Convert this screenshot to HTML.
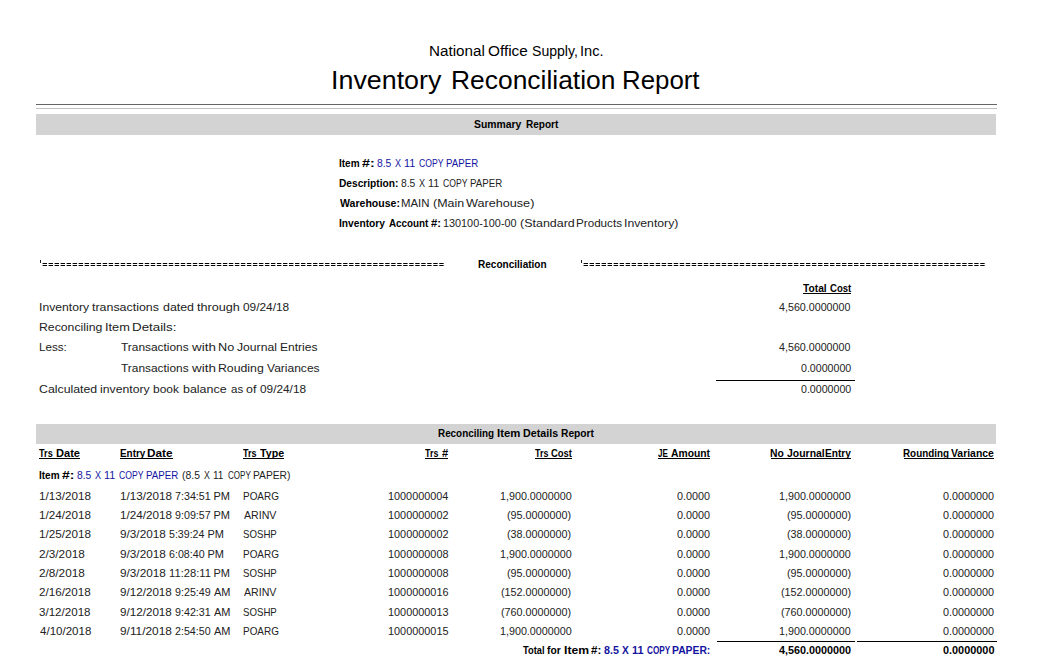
<!DOCTYPE html>
<html><head><meta charset="utf-8"><title>Inventory Reconciliation Report</title>
<style>
html,body{margin:0;padding:0;background:#fff;}
body{width:1046px;height:670px;position:relative;overflow:hidden;font-family:"Liberation Sans",sans-serif;}
.t{position:absolute;white-space:nowrap;line-height:0;transform-origin:0 0;}
.r{position:absolute;}
.eq{position:absolute;left:0;top:0;}
</style></head><body>
<div class="r" style="left:36px;top:104px;width:961px;height:1px;background:#666"></div>
<div class="r" style="left:36px;top:108px;width:961px;height:1px;background:#c0c0c0"></div>
<div class="r" style="left:36px;top:114px;width:960px;height:21px;background:#d3d3d3"></div>
<div class="r" style="left:803px;top:293px;width:48px;height:1px;background:#000"></div>
<div class="r" style="left:716px;top:380px;width:139px;height:1px;background:#000"></div>
<div class="r" style="left:36px;top:424px;width:960px;height:20px;background:#d3d3d3"></div>
<div class="r" style="left:39px;top:458px;width:41px;height:1px;background:#000"></div>
<div class="r" style="left:120px;top:458px;width:53px;height:1px;background:#000"></div>
<div class="r" style="left:243px;top:458px;width:41px;height:1px;background:#000"></div>
<div class="r" style="left:425px;top:458px;width:23px;height:1px;background:#000"></div>
<div class="r" style="left:535px;top:458px;width:37px;height:1px;background:#000"></div>
<div class="r" style="left:658px;top:458px;width:52px;height:1px;background:#000"></div>
<div class="r" style="left:771px;top:458px;width:80px;height:1px;background:#000"></div>
<div class="r" style="left:904px;top:458px;width:90px;height:1px;background:#000"></div>
<div class="r" style="left:717px;top:641px;width:138px;height:1px;background:#000"></div>
<div class="r" style="left:857px;top:641px;width:140px;height:1px;background:#000"></div>
<svg class="eq" width="1046" height="670" viewBox="0 0 1046 670"><line x1="42.6" y1="263.5" x2="443.65999999999997" y2="263.5" stroke="#000" stroke-width="1" stroke-dasharray="4.4 1.61"/><line x1="42.6" y1="265.5" x2="443.65999999999997" y2="265.5" stroke="#000" stroke-width="1" stroke-dasharray="4.4 1.61"/><line x1="583.6" y1="263.5" x2="984.66" y2="263.5" stroke="#000" stroke-width="1" stroke-dasharray="4.4 1.61"/><line x1="583.6" y1="265.5" x2="984.66" y2="265.5" stroke="#000" stroke-width="1" stroke-dasharray="4.4 1.61"/><rect x="40" y="260" width="1" height="3" fill="#222"/><rect x="581" y="260" width="1" height="3" fill="#222"/></svg>
<div class="t" style="left:428.61px;top:51px;font-size:14px;font-weight:400;color:#000;transform:scaleX(1.0861)">National</div>
<div class="t" style="left:487.88px;top:51px;font-size:14px;font-weight:400;color:#000;transform:scaleX(1.0944)">Office</div>
<div class="t" style="left:531.86px;top:51px;font-size:14px;font-weight:400;color:#000;transform:scaleX(1.0051)">Supply,</div>
<div class="t" style="left:580.36px;top:51px;font-size:14px;font-weight:400;color:#000;transform:scaleX(1.0442)">Inc.</div>
<div class="t" style="left:331.00px;top:80px;font-size:25.3px;font-weight:400;color:#000;transform:scaleX(1.0608)">Inventory</div>
<div class="t" style="left:450.54px;top:80px;font-size:25.3px;font-weight:400;color:#000;transform:scaleX(1.0441)">Reconciliation</div>
<div class="t" style="left:622.18px;top:80px;font-size:25.3px;font-weight:400;color:#000;transform:scaleX(1.0210)">Report</div>
<div class="t" style="left:473.94px;top:124px;font-size:11px;font-weight:700;color:#000;transform:scaleX(0.9454)">Summary</div>
<div class="t" style="left:525.57px;top:124px;font-size:11px;font-weight:700;color:#000;transform:scaleX(0.9135)">Report</div>
<div class="t" style="left:338.98px;top:163px;font-size:11px;font-weight:700;color:#000;transform:scaleX(0.9079)">Item</div>
<div class="t" style="left:362.28px;top:163px;font-size:11px;font-weight:700;color:#000;transform:scaleX(1.2880)">#:</div>
<div class="t" style="left:377.18px;top:163px;font-size:11px;font-weight:400;color:#1414a0;transform:scaleX(0.9378)">8.5</div>
<div class="t" style="left:395.26px;top:163px;font-size:11px;font-weight:400;color:#1414a0;transform:scaleX(0.8231)">X</div>
<div class="t" style="left:404.02px;top:163px;font-size:11px;font-weight:400;color:#1414a0;transform:scaleX(0.9820)">11</div>
<div class="t" style="left:419.09px;top:163px;font-size:11px;font-weight:400;color:#1414a0;transform:scaleX(0.7859)">COPY</div>
<div class="t" style="left:446.24px;top:163px;font-size:11px;font-weight:400;color:#1414a0;transform:scaleX(0.8827)">PAPER</div>
<div class="t" style="left:338.96px;top:183px;font-size:11px;font-weight:700;color:#000;transform:scaleX(0.9253)">Description:</div>
<div class="t" style="left:400.98px;top:183px;font-size:11px;font-weight:400;color:#222;transform:scaleX(0.9378)">8.5</div>
<div class="t" style="left:419.06px;top:183px;font-size:11px;font-weight:400;color:#222;transform:scaleX(0.8231)">X</div>
<div class="t" style="left:427.82px;top:183px;font-size:11px;font-weight:400;color:#222;transform:scaleX(0.9820)">11</div>
<div class="t" style="left:442.89px;top:183px;font-size:11px;font-weight:400;color:#222;transform:scaleX(0.7859)">COPY</div>
<div class="t" style="left:470.04px;top:183px;font-size:11px;font-weight:400;color:#222;transform:scaleX(0.8827)">PAPER</div>
<div class="t" style="left:339.60px;top:203px;font-size:11px;font-weight:700;color:#000;transform:scaleX(0.9589)">Warehouse:</div>
<div class="t" style="left:401.41px;top:203px;font-size:11px;font-weight:400;color:#222;transform:scaleX(1.0371)">MAIN</div>
<div class="t" style="left:433.02px;top:203px;font-size:11px;font-weight:400;color:#222;transform:scaleX(1.1300)">(Main</div>
<div class="t" style="left:466.30px;top:203px;font-size:11px;font-weight:400;color:#222;transform:scaleX(1.1487)">Warehouse)</div>
<div class="t" style="left:339.06px;top:223px;font-size:11px;font-weight:700;color:#000;transform:scaleX(0.9286)">Inventory</div>
<div class="t" style="left:388.65px;top:223px;font-size:11px;font-weight:700;color:#000;transform:scaleX(0.8955)">Account</div>
<div class="t" style="left:430.92px;top:223px;font-size:11px;font-weight:700;color:#000;transform:scaleX(1.0235)">#:</div>
<div class="t" style="left:443.12px;top:223px;font-size:11px;font-weight:400;color:#222;transform:scaleX(0.9856)">130100-100-00</div>
<div class="t" style="left:520.22px;top:223px;font-size:11px;font-weight:400;color:#222;transform:scaleX(1.1341)">(Standard</div>
<div class="t" style="left:575.89px;top:223px;font-size:11px;font-weight:400;color:#222;transform:scaleX(1.0591)">Products</div>
<div class="t" style="left:624.24px;top:223px;font-size:11px;font-weight:400;color:#222;transform:scaleX(1.1120)">Inventory)</div>
<div class="t" style="left:478.27px;top:264px;font-size:11px;font-weight:700;color:#000;transform:scaleX(0.9127)">Reconciliation</div>
<div class="t" style="left:803.30px;top:288px;font-size:11px;font-weight:700;color:#000;transform:scaleX(0.9311)">Total</div>
<div class="t" style="left:829.90px;top:288px;font-size:11px;font-weight:700;color:#000;transform:scaleX(0.8692)">Cost</div>
<div class="t" style="left:39.35px;top:307px;font-size:11px;font-weight:400;color:#222;transform:scaleX(1.1062)">Inventory</div>
<div class="t" style="left:91.90px;top:307px;font-size:11px;font-weight:400;color:#222;transform:scaleX(1.1278)">transactions</div>
<div class="t" style="left:163.31px;top:307px;font-size:11px;font-weight:400;color:#222;transform:scaleX(1.1255)">dated</div>
<div class="t" style="left:197.30px;top:307px;font-size:11px;font-weight:400;color:#222;transform:scaleX(1.1502)">through</div>
<div class="t" style="left:242.63px;top:307px;font-size:11px;font-weight:400;color:#222;transform:scaleX(1.0778)">09/24/18</div>
<div class="t" style="left:779.43px;top:307px;font-size:11px;font-weight:400;color:#222;transform:scaleX(0.9731)">4,560.0000000</div>
<div class="t" style="left:38.64px;top:327px;font-size:11px;font-weight:400;color:#222;transform:scaleX(1.1140)">Reconciling</div>
<div class="t" style="left:105.00px;top:327px;font-size:11px;font-weight:400;color:#222;transform:scaleX(1.1621)">Item</div>
<div class="t" style="left:132.46px;top:327px;font-size:11px;font-weight:400;color:#222;transform:scaleX(1.2117)">Details:</div>
<div class="t" style="left:38.99px;top:347px;font-size:11px;font-weight:400;color:#222;transform:scaleX(1.0598)">Less:</div>
<div class="t" style="left:120.81px;top:347px;font-size:11px;font-weight:400;color:#222;transform:scaleX(1.0814)">Transactions</div>
<div class="t" style="left:192.31px;top:347px;font-size:11px;font-weight:400;color:#222;transform:scaleX(1.2189)">with</div>
<div class="t" style="left:218.21px;top:347px;font-size:11px;font-weight:400;color:#222;transform:scaleX(1.1524)">No</div>
<div class="t" style="left:236.51px;top:347px;font-size:11px;font-weight:400;color:#222;transform:scaleX(1.1057)">Journal</div>
<div class="t" style="left:280.26px;top:347px;font-size:11px;font-weight:400;color:#222;transform:scaleX(1.0959)">Entries</div>
<div class="t" style="left:779.43px;top:347px;font-size:11px;font-weight:400;color:#222;transform:scaleX(0.9731)">4,560.0000000</div>
<div class="t" style="left:120.81px;top:368px;font-size:11px;font-weight:400;color:#222;transform:scaleX(1.0814)">Transactions</div>
<div class="t" style="left:192.31px;top:368px;font-size:11px;font-weight:400;color:#222;transform:scaleX(1.2189)">with</div>
<div class="t" style="left:218.34px;top:368px;font-size:11px;font-weight:400;color:#222;transform:scaleX(1.1165)">Rouding</div>
<div class="t" style="left:267.10px;top:368px;font-size:11px;font-weight:400;color:#222;transform:scaleX(1.0931)">Variances</div>
<div class="t" style="left:800.67px;top:368px;font-size:11px;font-weight:400;color:#222;transform:scaleX(0.9654)">0.0000000</div>
<div class="t" style="left:38.72px;top:389px;font-size:11px;font-weight:400;color:#222;transform:scaleX(1.1191)">Calculated</div>
<div class="t" style="left:100.14px;top:389px;font-size:11px;font-weight:400;color:#222;transform:scaleX(1.1127)">inventory</div>
<div class="t" style="left:153.05px;top:389px;font-size:11px;font-weight:400;color:#222;transform:scaleX(1.0884)">book</div>
<div class="t" style="left:183.12px;top:389px;font-size:11px;font-weight:400;color:#222;transform:scaleX(1.1310)">balance</div>
<div class="t" style="left:230.54px;top:389px;font-size:11px;font-weight:400;color:#222;transform:scaleX(1.0430)">as</div>
<div class="t" style="left:245.91px;top:389px;font-size:11px;font-weight:400;color:#222;transform:scaleX(1.1277)">of</div>
<div class="t" style="left:259.63px;top:389px;font-size:11px;font-weight:400;color:#222;transform:scaleX(1.0755)">09/24/18</div>
<div class="t" style="left:800.67px;top:389px;font-size:11px;font-weight:400;color:#222;transform:scaleX(0.9654)">0.0000000</div>
<div class="t" style="left:438.08px;top:433px;font-size:11px;font-weight:700;color:#000;transform:scaleX(0.8974)">Reconciling</div>
<div class="t" style="left:496.99px;top:433px;font-size:11px;font-weight:700;color:#000;transform:scaleX(1.0302)">Item</div>
<div class="t" style="left:523.13px;top:433px;font-size:11px;font-weight:700;color:#000;transform:scaleX(0.9731)">Details</div>
<div class="t" style="left:560.96px;top:433px;font-size:11px;font-weight:700;color:#000;transform:scaleX(0.9308)">Report</div>
<div class="t" style="left:39.30px;top:453px;font-size:11px;font-weight:700;color:#000;transform:scaleX(0.8341)">Trs</div>
<div class="t" style="left:56.01px;top:453px;font-size:11px;font-weight:700;color:#000;transform:scaleX(1.0052)">Date</div>
<div class="t" style="left:119.68px;top:453px;font-size:11px;font-weight:700;color:#000;transform:scaleX(0.9018)">Entry</div>
<div class="t" style="left:147.46px;top:453px;font-size:11px;font-weight:700;color:#000;transform:scaleX(1.0708)">Date</div>
<div class="t" style="left:243.00px;top:453px;font-size:11px;font-weight:700;color:#000;transform:scaleX(0.8154)">Trs</div>
<div class="t" style="left:260.10px;top:453px;font-size:11px;font-weight:700;color:#000;transform:scaleX(0.9681)">Type</div>
<div class="t" style="left:425.40px;top:453px;font-size:11px;font-weight:700;color:#000;transform:scaleX(0.8092)">Trs</div>
<div class="t" style="left:442.03px;top:453px;font-size:11px;font-weight:700;color:#000;transform:scaleX(1.0096)">#</div>
<div class="t" style="left:534.70px;top:453px;font-size:11px;font-weight:700;color:#000;transform:scaleX(0.8092)">Trs</div>
<div class="t" style="left:551.21px;top:453px;font-size:11px;font-weight:700;color:#000;transform:scaleX(0.8567)">Cost</div>
<div class="t" style="left:658.00px;top:453px;font-size:11px;font-weight:700;color:#000;transform:scaleX(0.7292)">JE</div>
<div class="t" style="left:670.84px;top:453px;font-size:11px;font-weight:700;color:#000;transform:scaleX(0.9390)">Amount</div>
<div class="t" style="left:770.25px;top:453px;font-size:11px;font-weight:700;color:#000;transform:scaleX(0.9401)">No</div>
<div class="t" style="left:786.50px;top:453px;font-size:11px;font-weight:700;color:#000;transform:scaleX(0.9493)">Journal</div>
<div class="t" style="left:824.87px;top:453px;font-size:11px;font-weight:700;color:#000;transform:scaleX(0.9200)">Entry</div>
<div class="t" style="left:903.28px;top:453px;font-size:11px;font-weight:700;color:#000;transform:scaleX(0.8954)">Rounding</div>
<div class="t" style="left:951.20px;top:453px;font-size:11px;font-weight:700;color:#000;transform:scaleX(0.9470)">Variance</div>
<div class="t" style="left:38.88px;top:475px;font-size:11px;font-weight:700;color:#000;transform:scaleX(0.9079)">Item</div>
<div class="t" style="left:62.18px;top:475px;font-size:11px;font-weight:700;color:#000;transform:scaleX(1.2650)">#:</div>
<div class="t" style="left:77.38px;top:475px;font-size:11px;font-weight:400;color:#1414a0;transform:scaleX(0.9378)">8.5</div>
<div class="t" style="left:95.46px;top:475px;font-size:11px;font-weight:400;color:#1414a0;transform:scaleX(0.8231)">X</div>
<div class="t" style="left:104.22px;top:475px;font-size:11px;font-weight:400;color:#1414a0;transform:scaleX(0.9820)">11</div>
<div class="t" style="left:119.29px;top:475px;font-size:11px;font-weight:400;color:#1414a0;transform:scaleX(0.7859)">COPY</div>
<div class="t" style="left:146.44px;top:475px;font-size:11px;font-weight:400;color:#1414a0;transform:scaleX(0.8827)">PAPER</div>
<div class="t" style="left:182.31px;top:475px;font-size:11px;font-weight:400;color:#222;transform:scaleX(0.9448)">(8.5</div>
<div class="t" style="left:204.36px;top:475px;font-size:11px;font-weight:400;color:#222;transform:scaleX(0.7947)">X</div>
<div class="t" style="left:213.17px;top:475px;font-size:11px;font-weight:400;color:#222;transform:scaleX(0.9139)">11</div>
<div class="t" style="left:227.72px;top:475px;font-size:11px;font-weight:400;color:#222;transform:scaleX(0.7335)">COPY</div>
<div class="t" style="left:253.40px;top:475px;font-size:11px;font-weight:400;color:#222;transform:scaleX(0.9326)">PAPER)</div>
<div class="t" style="left:39.07px;top:496px;font-size:11px;font-weight:400;color:#222;transform:scaleX(1.0606)">1/13/2018</div>
<div class="t" style="left:119.67px;top:496px;font-size:11px;font-weight:400;color:#222;transform:scaleX(1.0627)">1/13/2018</div>
<div class="t" style="left:174.90px;top:496px;font-size:11px;font-weight:400;color:#222;transform:scaleX(0.9737)">7:34:51</div>
<div class="t" style="left:213.54px;top:496px;font-size:11px;font-weight:400;color:#222;transform:scaleX(1.0000)">PM</div>
<div class="t" style="left:242.82px;top:496px;font-size:11px;font-weight:400;color:#222;transform:scaleX(0.9041)">POARG</div>
<div class="t" style="left:387.82px;top:496px;font-size:11px;font-weight:400;color:#222;transform:scaleX(0.9865)">1000000004</div>
<div class="t" style="left:500.03px;top:496px;font-size:11px;font-weight:400;color:#222;transform:scaleX(0.9759)">1,900.0000000</div>
<div class="t" style="left:676.96px;top:496px;font-size:11px;font-weight:400;color:#222;transform:scaleX(0.9810)">0.0000</div>
<div class="t" style="left:779.43px;top:496px;font-size:11px;font-weight:400;color:#222;transform:scaleX(0.9759)">1,900.0000000</div>
<div class="t" style="left:942.96px;top:496px;font-size:11px;font-weight:400;color:#222;transform:scaleX(0.9809)">0.0000000</div>
<div class="t" style="left:39.07px;top:515px;font-size:11px;font-weight:400;color:#222;transform:scaleX(1.0606)">1/24/2018</div>
<div class="t" style="left:119.67px;top:515px;font-size:11px;font-weight:400;color:#222;transform:scaleX(1.0627)">1/24/2018</div>
<div class="t" style="left:174.90px;top:515px;font-size:11px;font-weight:400;color:#222;transform:scaleX(0.9737)">9:09:57</div>
<div class="t" style="left:213.54px;top:515px;font-size:11px;font-weight:400;color:#222;transform:scaleX(1.0000)">PM</div>
<div class="t" style="left:243.60px;top:515px;font-size:11px;font-weight:400;color:#222;transform:scaleX(0.9652)">ARINV</div>
<div class="t" style="left:387.82px;top:515px;font-size:11px;font-weight:400;color:#222;transform:scaleX(0.9893)">1000000002</div>
<div class="t" style="left:507.10px;top:515px;font-size:11px;font-weight:400;color:#222;transform:scaleX(0.9789)">(95.0000000)</div>
<div class="t" style="left:676.96px;top:515px;font-size:11px;font-weight:400;color:#222;transform:scaleX(0.9810)">0.0000</div>
<div class="t" style="left:786.50px;top:515px;font-size:11px;font-weight:400;color:#222;transform:scaleX(0.9789)">(95.0000000)</div>
<div class="t" style="left:942.96px;top:515px;font-size:11px;font-weight:400;color:#222;transform:scaleX(0.9809)">0.0000000</div>
<div class="t" style="left:39.07px;top:534px;font-size:11px;font-weight:400;color:#222;transform:scaleX(1.0606)">1/25/2018</div>
<div class="t" style="left:119.85px;top:534px;font-size:11px;font-weight:400;color:#222;transform:scaleX(1.0703)">9/3/2018</div>
<div class="t" style="left:169.07px;top:534px;font-size:11px;font-weight:400;color:#222;transform:scaleX(0.9644)">5:39:24</div>
<div class="t" style="left:207.54px;top:534px;font-size:11px;font-weight:400;color:#222;transform:scaleX(1.0000)">PM</div>
<div class="t" style="left:243.30px;top:534px;font-size:11px;font-weight:400;color:#222;transform:scaleX(0.8779)">SOSHP</div>
<div class="t" style="left:387.82px;top:534px;font-size:11px;font-weight:400;color:#222;transform:scaleX(0.9893)">1000000002</div>
<div class="t" style="left:507.10px;top:534px;font-size:11px;font-weight:400;color:#222;transform:scaleX(0.9789)">(38.0000000)</div>
<div class="t" style="left:676.96px;top:534px;font-size:11px;font-weight:400;color:#222;transform:scaleX(0.9810)">0.0000</div>
<div class="t" style="left:786.50px;top:534px;font-size:11px;font-weight:400;color:#222;transform:scaleX(0.9789)">(38.0000000)</div>
<div class="t" style="left:942.96px;top:534px;font-size:11px;font-weight:400;color:#222;transform:scaleX(0.9809)">0.0000000</div>
<div class="t" style="left:39.25px;top:554px;font-size:11px;font-weight:400;color:#222;transform:scaleX(1.0679)">2/3/2018</div>
<div class="t" style="left:119.85px;top:554px;font-size:11px;font-weight:400;color:#222;transform:scaleX(1.0703)">9/3/2018</div>
<div class="t" style="left:168.90px;top:554px;font-size:11px;font-weight:400;color:#222;transform:scaleX(0.9691)">6:08:40</div>
<div class="t" style="left:207.54px;top:554px;font-size:11px;font-weight:400;color:#222;transform:scaleX(1.0000)">PM</div>
<div class="t" style="left:242.82px;top:554px;font-size:11px;font-weight:400;color:#222;transform:scaleX(0.9041)">POARG</div>
<div class="t" style="left:387.82px;top:554px;font-size:11px;font-weight:400;color:#222;transform:scaleX(0.9893)">1000000008</div>
<div class="t" style="left:500.03px;top:554px;font-size:11px;font-weight:400;color:#222;transform:scaleX(0.9759)">1,900.0000000</div>
<div class="t" style="left:676.96px;top:554px;font-size:11px;font-weight:400;color:#222;transform:scaleX(0.9810)">0.0000</div>
<div class="t" style="left:779.43px;top:554px;font-size:11px;font-weight:400;color:#222;transform:scaleX(0.9759)">1,900.0000000</div>
<div class="t" style="left:942.96px;top:554px;font-size:11px;font-weight:400;color:#222;transform:scaleX(0.9809)">0.0000000</div>
<div class="t" style="left:39.25px;top:573px;font-size:11px;font-weight:400;color:#222;transform:scaleX(1.0679)">2/8/2018</div>
<div class="t" style="left:119.85px;top:573px;font-size:11px;font-weight:400;color:#222;transform:scaleX(1.0703)">9/3/2018</div>
<div class="t" style="left:168.70px;top:573px;font-size:11px;font-weight:400;color:#222;transform:scaleX(1.0187)">11:28:11</div>
<div class="t" style="left:213.54px;top:573px;font-size:11px;font-weight:400;color:#222;transform:scaleX(1.0000)">PM</div>
<div class="t" style="left:243.30px;top:573px;font-size:11px;font-weight:400;color:#222;transform:scaleX(0.8779)">SOSHP</div>
<div class="t" style="left:387.82px;top:573px;font-size:11px;font-weight:400;color:#222;transform:scaleX(0.9893)">1000000008</div>
<div class="t" style="left:507.10px;top:573px;font-size:11px;font-weight:400;color:#222;transform:scaleX(0.9789)">(95.0000000)</div>
<div class="t" style="left:676.96px;top:573px;font-size:11px;font-weight:400;color:#222;transform:scaleX(0.9810)">0.0000</div>
<div class="t" style="left:786.50px;top:573px;font-size:11px;font-weight:400;color:#222;transform:scaleX(0.9789)">(95.0000000)</div>
<div class="t" style="left:942.96px;top:573px;font-size:11px;font-weight:400;color:#222;transform:scaleX(0.9809)">0.0000000</div>
<div class="t" style="left:39.26px;top:592px;font-size:11px;font-weight:400;color:#222;transform:scaleX(1.0568)">2/16/2018</div>
<div class="t" style="left:119.85px;top:592px;font-size:11px;font-weight:400;color:#222;transform:scaleX(1.0589)">9/12/2018</div>
<div class="t" style="left:174.90px;top:592px;font-size:11px;font-weight:400;color:#222;transform:scaleX(0.9737)">9:25:49</div>
<div class="t" style="left:214.40px;top:592px;font-size:11px;font-weight:400;color:#222;transform:scaleX(0.9963)">AM</div>
<div class="t" style="left:243.60px;top:592px;font-size:11px;font-weight:400;color:#222;transform:scaleX(0.9652)">ARINV</div>
<div class="t" style="left:387.82px;top:592px;font-size:11px;font-weight:400;color:#222;transform:scaleX(0.9893)">1000000016</div>
<div class="t" style="left:501.10px;top:592px;font-size:11px;font-weight:400;color:#222;transform:scaleX(0.9791)">(152.0000000)</div>
<div class="t" style="left:676.96px;top:592px;font-size:11px;font-weight:400;color:#222;transform:scaleX(0.9810)">0.0000</div>
<div class="t" style="left:780.50px;top:592px;font-size:11px;font-weight:400;color:#222;transform:scaleX(0.9791)">(152.0000000)</div>
<div class="t" style="left:942.96px;top:592px;font-size:11px;font-weight:400;color:#222;transform:scaleX(0.9809)">0.0000000</div>
<div class="t" style="left:39.44px;top:612px;font-size:11px;font-weight:400;color:#222;transform:scaleX(1.0530)">3/12/2018</div>
<div class="t" style="left:119.85px;top:612px;font-size:11px;font-weight:400;color:#222;transform:scaleX(1.0589)">9/12/2018</div>
<div class="t" style="left:174.90px;top:612px;font-size:11px;font-weight:400;color:#222;transform:scaleX(0.9737)">9:42:31</div>
<div class="t" style="left:214.40px;top:612px;font-size:11px;font-weight:400;color:#222;transform:scaleX(0.9963)">AM</div>
<div class="t" style="left:243.30px;top:612px;font-size:11px;font-weight:400;color:#222;transform:scaleX(0.8779)">SOSHP</div>
<div class="t" style="left:387.82px;top:612px;font-size:11px;font-weight:400;color:#222;transform:scaleX(0.9893)">1000000013</div>
<div class="t" style="left:501.10px;top:612px;font-size:11px;font-weight:400;color:#222;transform:scaleX(0.9791)">(760.0000000)</div>
<div class="t" style="left:676.96px;top:612px;font-size:11px;font-weight:400;color:#222;transform:scaleX(0.9810)">0.0000</div>
<div class="t" style="left:780.50px;top:612px;font-size:11px;font-weight:400;color:#222;transform:scaleX(0.9791)">(760.0000000)</div>
<div class="t" style="left:942.96px;top:612px;font-size:11px;font-weight:400;color:#222;transform:scaleX(0.9809)">0.0000000</div>
<div class="t" style="left:39.62px;top:631px;font-size:11px;font-weight:400;color:#222;transform:scaleX(1.0493)">4/10/2018</div>
<div class="t" style="left:119.84px;top:631px;font-size:11px;font-weight:400;color:#222;transform:scaleX(1.0772)">9/11/2018</div>
<div class="t" style="left:174.90px;top:631px;font-size:11px;font-weight:400;color:#222;transform:scaleX(0.9691)">2:54:50</div>
<div class="t" style="left:214.40px;top:631px;font-size:11px;font-weight:400;color:#222;transform:scaleX(0.9963)">AM</div>
<div class="t" style="left:242.82px;top:631px;font-size:11px;font-weight:400;color:#222;transform:scaleX(0.9041)">POARG</div>
<div class="t" style="left:387.82px;top:631px;font-size:11px;font-weight:400;color:#222;transform:scaleX(0.9893)">1000000015</div>
<div class="t" style="left:500.03px;top:631px;font-size:11px;font-weight:400;color:#222;transform:scaleX(0.9759)">1,900.0000000</div>
<div class="t" style="left:676.96px;top:631px;font-size:11px;font-weight:400;color:#222;transform:scaleX(0.9810)">0.0000</div>
<div class="t" style="left:779.43px;top:631px;font-size:11px;font-weight:400;color:#222;transform:scaleX(0.9759)">1,900.0000000</div>
<div class="t" style="left:942.96px;top:631px;font-size:11px;font-weight:400;color:#222;transform:scaleX(0.9809)">0.0000000</div>
<div class="t" style="left:522.70px;top:650px;font-size:11px;font-weight:700;color:#000;transform:scaleX(0.8465)">Total</div>
<div class="t" style="left:546.94px;top:650px;font-size:11px;font-weight:700;color:#000;transform:scaleX(0.9347)">for</div>
<div class="t" style="left:564.44px;top:650px;font-size:11px;font-weight:700;color:#000;transform:scaleX(1.1054)">Item</div>
<div class="t" style="left:591.32px;top:650px;font-size:11px;font-weight:700;color:#000;transform:scaleX(1.0465)">#:</div>
<div class="t" style="left:604.07px;top:650px;font-size:11px;font-weight:700;color:#1414a0;transform:scaleX(0.9745)">8.5</div>
<div class="t" style="left:622.00px;top:650px;font-size:11px;font-weight:700;color:#1414a0;transform:scaleX(0.9201)">X</div>
<div class="t" style="left:631.72px;top:650px;font-size:11px;font-weight:700;color:#1414a0;transform:scaleX(0.9843)">11</div>
<div class="t" style="left:647.24px;top:650px;font-size:11px;font-weight:700;color:#1414a0;transform:scaleX(0.7456)">COPY</div>
<div class="t" style="left:672.45px;top:650px;font-size:11px;font-weight:700;color:#1414a0;transform:scaleX(0.9401)">PAPER:</div>
<div class="t" style="left:779.10px;top:650px;font-size:11px;font-weight:700;color:#000;transform:scaleX(0.9827)">4,560.0000000</div>
<div class="t" style="left:942.91px;top:650px;font-size:11px;font-weight:700;color:#000;transform:scaleX(0.9891)">0.0000000</div>
</body></html>
